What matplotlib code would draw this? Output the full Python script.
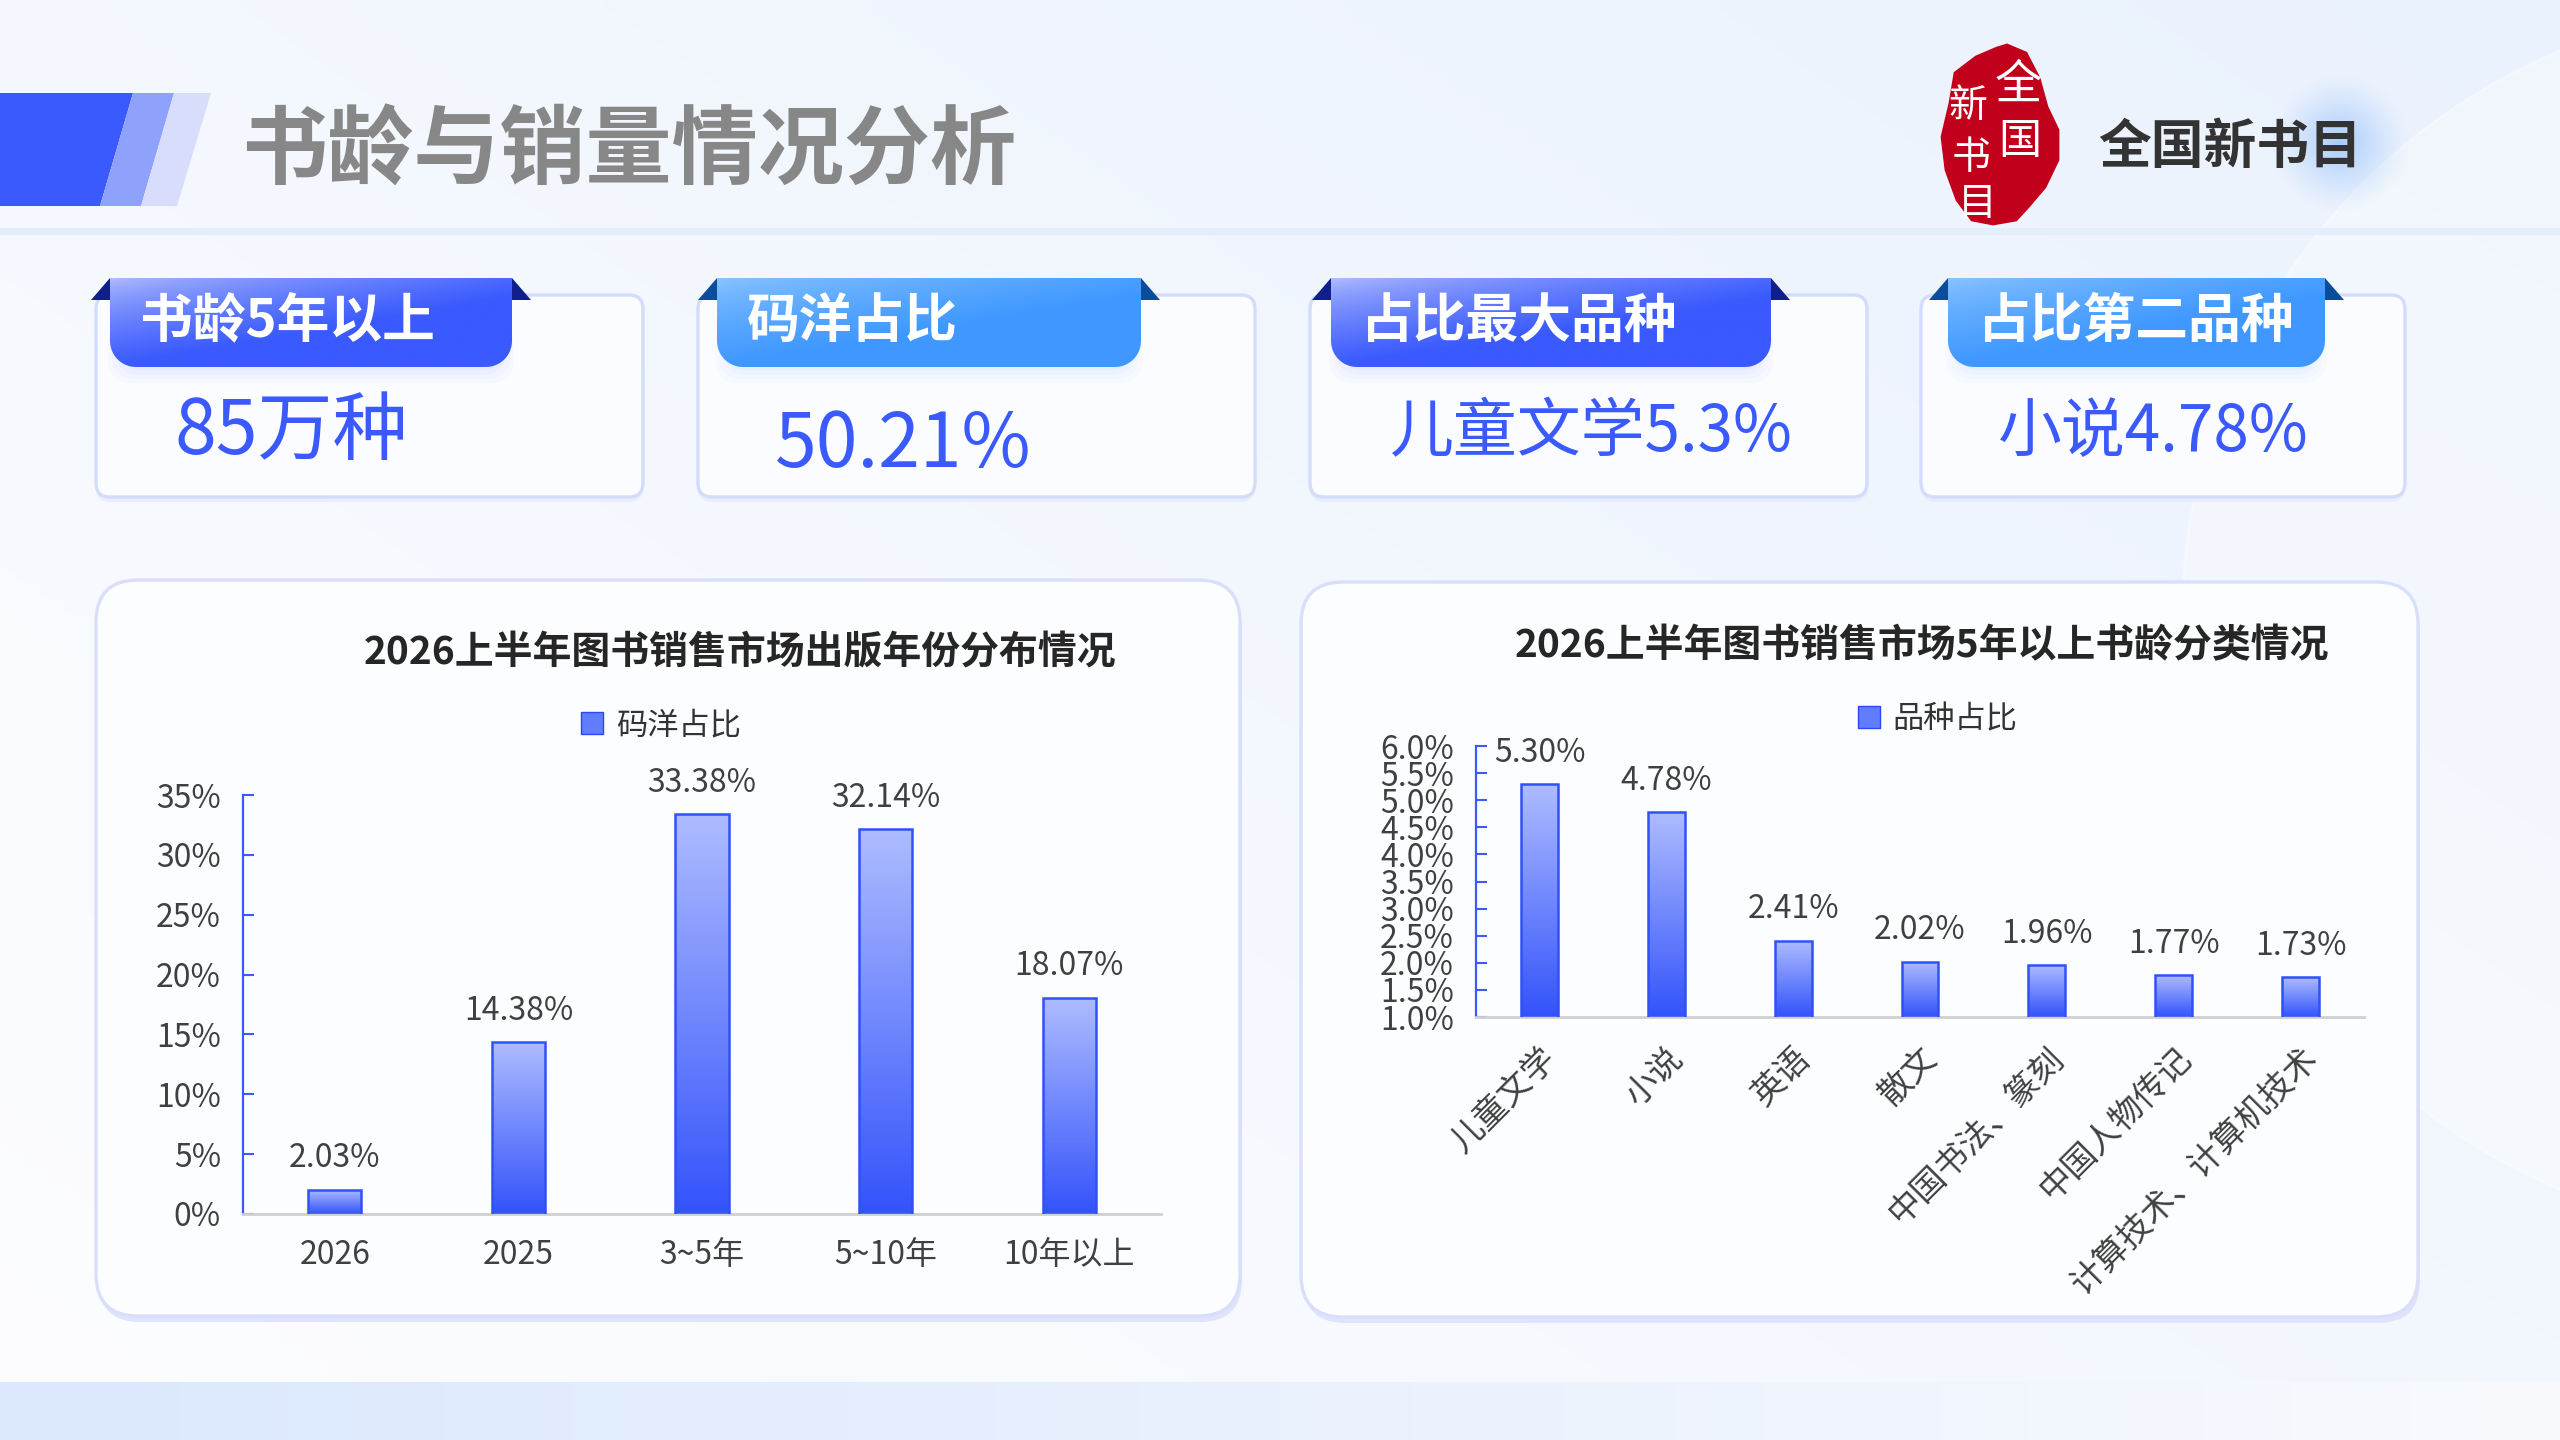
import numpy as np
import matplotlib
matplotlib.use("Agg")
import matplotlib.pyplot as plt
from matplotlib.patches import FancyBboxPatch, Polygon, Rectangle, Circle, Patch
from matplotlib.colors import LinearSegmentedColormap, to_rgb

plt.rcParams['font.family'] = ['Noto Sans CJK SC', 'DejaVu Sans']

# ---------------- data ----------------
page_title = "书龄与销量情况分析"
brand_name = "全国新书目"
seal_chars = ["全", "国", "新", "书", "目"]

kpi_labels = ["书龄5年以上", "码洋占比", "占比最大品种", "占比第二品种"]
kpi_values = ["85万种", "50.21%", "儿童文学5.3%", "小说4.78%"]

left_title = "2026上半年图书销售市场出版年份分布情况"
left_series = "码洋占比"
left_categories = ["2026", "2025", "3~5年", "5~10年", "10年以上"]
left_values = [2.03, 14.38, 33.38, 32.14, 18.07]
left_yticks = [0, 5, 10, 15, 20, 25, 30, 35]

right_title = "2026上半年图书销售市场5年以上书龄分类情况"
right_series = "品种占比"
right_categories = ["儿童文学", "小说", "英语", "散文", "中国书法、篆刻",
                    "中国人物传记", "计算技术、计算机技术"]
right_values = [5.30, 4.78, 2.41, 2.02, 1.96, 1.77, 1.73]
right_yticks = [1.0, 1.5, 2.0, 2.5, 3.0, 3.5, 4.0, 4.5, 5.0, 5.5, 6.0]

# ---------------- figure ----------------
W, H = 2560, 1440
fig = plt.figure(figsize=(25.6, 14.4), dpi=100)
bg = fig.add_axes([0, 0, 1, 1])
bg.set_xlim(0, W)
bg.set_ylim(H, 0)
bg.axis('off')

def lerp_img(c0, c1, t):
    c0 = np.array(to_rgb(c0)); c1 = np.array(to_rgb(c1))
    return c0[None, None, :] * (1 - t[..., None]) + c1[None, None, :] * t[..., None]

# background gradient
GX, GY = np.meshgrid(np.linspace(0, 1, 256), np.linspace(0, 1, 144))
t = np.clip(0.55 * GX + 0.45 * (1 - GY), 0, 1)
bg.imshow(lerp_img('#fdfdff', '#eaf2fd', t), extent=(0, W, H, 0), aspect='auto',
          interpolation='bicubic', zorder=0)
bg.add_patch(Circle((2800, 620), 618, fc='white', ec='white', lw=2, alpha=0.35, zorder=0.5))

# bottom band
bx = np.linspace(0, 1, 256)[None, :].repeat(4, axis=0)
bg.imshow(lerp_img('#dbe8fd', '#f8fafe', bx), extent=(0, W, H, 1382), aspect='auto',
          interpolation='bicubic', zorder=0.6)

# header
bg.add_patch(Polygon([(0, 93), (133, 93), (100, 206), (0, 206)], closed=True, fc='#3a5afe', ec='none', zorder=2))
bg.add_patch(Polygon([(133, 93), (174, 93), (141, 206), (100, 206)], closed=True, fc='#8ea2fb', ec='none', zorder=2))
bg.add_patch(Polygon([(174, 93), (211, 93), (177, 206), (141, 206)], closed=True, fc='#d7ddfb', ec='none', zorder=2))
bg.text(241, 152, page_title, fontsize=62, fontweight='bold', color='#878787',
        ha='left', va='center', zorder=3)
bg.add_patch(Rectangle((0, 228), W, 7, fc='#e4edfc', ec='none', zorder=1))

# logo glow
R = 70
yy, xx = np.mgrid[-1:1:160j, -1:1:160j]
rr = np.sqrt(xx ** 2 + yy ** 2)
glow = np.zeros((160, 160, 4))
glow[..., :3] = to_rgb('#a6cbfb')
glow[..., 3] = np.clip(1 - rr, 0, 1) ** 1.2 * 0.95
bg.imshow(glow, extent=(2340 - R, 2340 + R, 143 + R, 143 - R), interpolation='bicubic', zorder=1)

# seal
seal = [(2007, 45), (2026, 53), (2039, 78), (2047, 107), (2058, 130), (2058, 160), (2045, 187),
        (2028, 207), (2016, 220), (1993, 224), (1972, 220), (1957, 200), (1946, 170),
        (1942, 137), (1950, 103), (1955, 73), (1976, 57), (1997, 48)]
bg.add_patch(Polygon(seal, closed=True, fc='#c1001c', ec='#c1001c', lw=2, zorder=3))
seal_pos = [(2018, 86, 34), (2020, 142, 31), (1968, 106, 28), (1971, 158, 28), (1977, 204, 28)]
for ch, (sx, sy, fs) in zip(seal_chars, seal_pos):
    bg.text(sx, sy, ch, fontsize=fs, color='white', ha='center', va='center', zorder=4)
bg.text(2098, 148, brand_name, fontsize=38, fontweight='bold', color='#333333',
        ha='left', va='center', zorder=3)

# ---------------- KPI cards ----------------
card_x = [(96, 643), (698, 1255), (1310, 1867), (1921, 2405)]
tab_x = [(110, 512), (717, 1141), (1331, 1771), (1948, 2325)]
tab_styles = [('#b3bffd', '#3a5afe', '#0f1f8c'), ('#8cc5ff', '#3f98ff', '#0a4e9b'),
              ('#b3bffd', '#3a5afe', '#0f1f8c'), ('#8cc5ff', '#3f98ff', '#0a4e9b')]
value_pos = [(175, 433, 54), (775, 445, 54), (1390, 433, 46), (1998, 433, 46)]


def tab_polygon(x0, y0, x1, y1, r):
    verts = [(x0, y0), (x1, y0), (x1, y1 - r)]
    th = np.linspace(0, np.pi / 2, 14)
    for a in th:
        verts.append((x1 - r + r * np.cos(a), y1 - r + r * np.sin(a)))
    for a in th:
        verts.append((x0 + r + r * np.cos(a + np.pi / 2), y1 - r + r * np.sin(a + np.pi / 2)))
    return Polygon(verts, closed=True)


TY0, TY1 = 278, 367
for i in range(4):
    cx0, cx1 = card_x[i]
    bg.add_patch(FancyBboxPatch((cx0, 300), cx1 - cx0, 202, boxstyle="round,pad=0,rounding_size=14",
                                fc='#e2e8fc', ec='none', alpha=0.6, zorder=1.5))
    bg.add_patch(FancyBboxPatch((cx0, 295), cx1 - cx0, 202, boxstyle="round,pad=0,rounding_size=14",
                                fc='#fbfcff', ec='#d3ddfb', lw=2.4, zorder=2))
    tx0, tx1 = tab_x[i]
    light, dark, tri = tab_styles[i]
    # soft glow under tab
    for k in range(5):
        bg.add_patch(FancyBboxPatch((tx0 + 14 - 4 * k, TY1 - 40 - k), tx1 - tx0 - 28 + 8 * k,
                                    40 + 5 * k, boxstyle="round,pad=0,rounding_size=24",
                                    fc=dark, ec='none', alpha=0.022, zorder=2.2))
    bg.add_patch(Polygon([(tx0, TY0), (tx0 - 19, TY0 + 22), (tx0, TY0 + 22)], closed=True,
                         fc=tri, ec='none', zorder=2.5))
    bg.add_patch(Polygon([(tx1, TY0), (tx1 + 19, TY0 + 22), (tx1, TY0 + 22)], closed=True,
                         fc=tri, ec='none', zorder=2.5))
    tp = tab_polygon(tx0, TY0, tx1, TY1, 26)
    tp.set_facecolor('none'); tp.set_edgecolor('none')
    bg.add_patch(tp)
    U, V = np.meshgrid(np.linspace(0, 1, 200), np.linspace(0, 1, 60))
    tt = np.clip(0.8 * U + 1.0 * V, 0, 1) ** 0.7
    im = bg.imshow(lerp_img(light, dark, tt), extent=(tx0, tx1, TY1, TY0), aspect='auto',
                   interpolation='bicubic', zorder=3)
    im.set_clip_path(tp)
    bg.text(tx0 + 30, 321, kpi_labels[i], fontsize=38, fontweight='bold', color='white',
            ha='left', va='center', zorder=4)
    vx, vy, vfs = value_pos[i]
    bg.text(vx, vy, kpi_values[i], fontsize=vfs, color='#3a5afe', fontweight='medium',
            ha='left', va='center', zorder=4)

# ---------------- chart panels ----------------
for (px0, py0, pw, ph) in [(96, 580, 1144, 736), (1301, 582, 1117, 735)]:
    bg.add_patch(FancyBboxPatch((px0 + 2, py0 + 6), pw, ph, boxstyle="round,pad=0,rounding_size=42",
                                fc='#dfe4fc', ec='none', zorder=1.5))
    bg.add_patch(FancyBboxPatch((px0, py0), pw, ph, boxstyle="round,pad=0,rounding_size=42",
                                fc='#fcfdff', ec='#d9dffb', lw=2.4, zorder=2))

bg.text(740, 653, left_title, fontsize=28, fontweight='bold', color='#262626', ha='center', va='center', zorder=4)
bg.text(1922, 646, right_title, fontsize=28, fontweight='bold', color='#262626', ha='center', va='center', zorder=4)

bg.set_xlim(0, W)
bg.set_ylim(H, 0)

bar_cmap = LinearSegmentedColormap.from_list('barg', ['#aebcff', '#3353fb'])
grad = np.linspace(1, 0, 256).reshape(-1, 1)
TXT = '#404040'
BLUE = '#3a5afe'


def gradient_bars(ax, bars):
    for b in bars:
        x0, y0, w, h = b.get_x(), b.get_y(), b.get_width(), b.get_height()
        im = ax.imshow(grad, extent=(x0, x0 + w, y0, y0 + h), origin='lower', cmap=bar_cmap,
                       vmin=0, vmax=1, aspect='auto', interpolation='bicubic', zorder=2)
        im.set_clip_path(b)


def style_axes(ax):
    ax.set_facecolor('none')
    ax.spines['top'].set_visible(False)
    ax.spines['right'].set_visible(False)
    ax.spines['left'].set_color(BLUE)
    ax.spines['left'].set_linewidth(1.6)
    ax.spines['bottom'].set_color('#d0d0d0')
    ax.spines['bottom'].set_linewidth(2)
    ax.tick_params(axis='y', direction='in', length=8, width=1.5, color=BLUE, pad=16,
                   labelsize=23, labelcolor=TXT)
    ax.tick_params(axis='x', length=0, labelsize=23, labelcolor=TXT)


# left chart
ax1 = fig.add_axes([243 / W, 1 - 1214 / H, 918 / W, 419 / H])
x1 = np.arange(len(left_categories))
bars1 = ax1.bar(x1, left_values, width=0.29, facecolor='none', edgecolor='#3050f8', linewidth=1.8, zorder=3)
gradient_bars(ax1, bars1)
ax1.bar_label(bars1, labels=[f"{v:.2f}%" for v in left_values], padding=11, fontsize=23, color=TXT)
style_axes(ax1)
ax1.set_xlim(-0.5, len(left_categories) - 0.5)
ax1.set_ylim(left_yticks[0], left_yticks[-1])
ax1.set_yticks(left_yticks, [f"{v}%" for v in left_yticks])
ax1.set_xticks(x1, left_categories)
ax1.tick_params(axis='x', pad=18)
ax1.legend(handles=[Patch(facecolor='#5f7dfd', edgecolor='#2c48f2', label=left_series)],
           loc='center', bbox_to_anchor=(661 / W, 1 - 725 / H), bbox_transform=fig.transFigure,
           frameon=False, fontsize=22.5, handlelength=0.7, handleheight=0.7, handletextpad=0.4,
           labelcolor='#333333')

# right chart
ax2 = fig.add_axes([1476 / W, 1 - 1017 / H, 888 / W, 271 / H])
x2 = np.arange(len(right_categories))
ymin2 = right_yticks[0]
bars2 = ax2.bar(x2, np.array(right_values) - ymin2, bottom=ymin2, width=0.29, facecolor='none',
                edgecolor='#3050f8', linewidth=1.8, zorder=3)
gradient_bars(ax2, bars2)
ax2.bar_label(bars2, labels=[f"{v:.2f}%" for v in right_values], padding=11, fontsize=23, color=TXT)
style_axes(ax2)
ax2.set_xlim(-0.5, len(right_categories) - 0.5)
ax2.set_ylim(right_yticks[0], right_yticks[-1])
ax2.set_yticks(right_yticks, [f"{v:.1f}%" for v in right_yticks])
ax2.set_xticks(x2, right_categories, rotation=45, ha='right', rotation_mode='anchor')
ax2.tick_params(axis='x', pad=17, labelsize=24)
ax2.legend(handles=[Patch(facecolor='#5f7dfd', edgecolor='#2c48f2', label=right_series)],
           loc='center', bbox_to_anchor=(1938 / W, 1 - 719 / H), bbox_transform=fig.transFigure,
           frameon=False, fontsize=22.5, handlelength=0.7, handleheight=0.7, handletextpad=0.4,
           labelcolor='#333333')

fig.savefig('out.png', dpi=100)
